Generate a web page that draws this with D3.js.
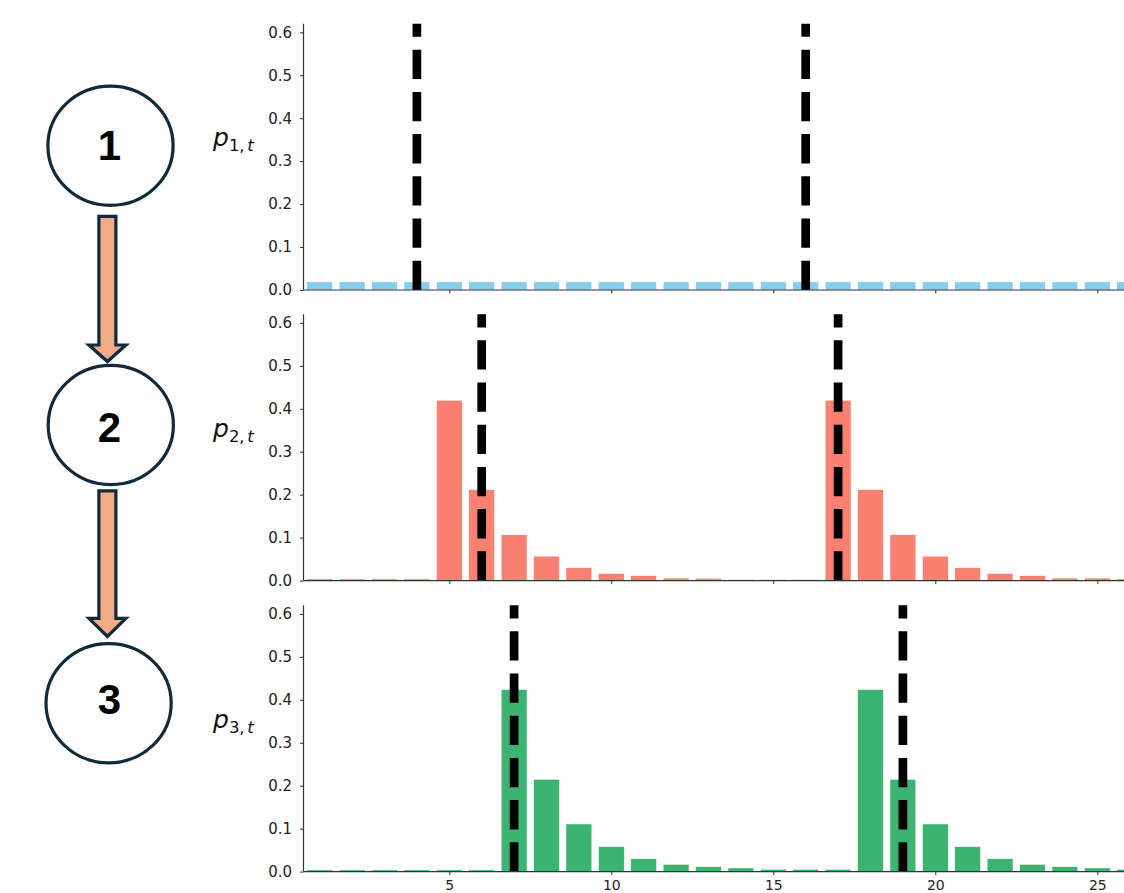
<!DOCTYPE html>
<html>
<head>
<meta charset="utf-8">
<script src="https://cdn.jsdelivr.net/npm/d3@7"></script>
<style>
  html, body { margin: 0; padding: 0; background: #fff; }
  svg { display: block; }
</style>
</head>
<body>
<svg id="chart" width="1124" height="893"></svg>
<script>
// ---------------- data ----------------
const categories = [1,2,3,4,5,6,7,8,9,10,11,12,13,14,15,16,17,18,19,20,21,22,23,24,25,26];
const p1Values = [0.019,0.019,0.019,0.019,0.019,0.019,0.019,0.019,0.019,0.019,0.019,0.019,0.019,
                  0.019,0.019,0.019,0.019,0.019,0.019,0.019,0.019,0.019,0.019,0.019,0.019,0.019];
const p2Values = [0.004,0.004,0.004,0.004,0.42,0.212,0.107,0.057,0.030,0.017,0.0116,0.006,0.0055,
                  0.003,0.003,0.003,0.42,0.212,0.107,0.057,0.030,0.017,0.0116,0.006,0.006,0.004];
const p3Values = [0.004,0.004,0.004,0.004,0.004,0.004,0.424,0.215,0.111,0.058,0.030,0.017,0.0117,
                  0.0086,0.0055,0.0055,0.0055,0.424,0.215,0.111,0.058,0.030,0.017,0.0117,0.0086,0.0055];
const markers1 = [4, 16];
const markers2 = [6, 17];
const markers3 = [7, 19];
const yTicks = [0.0, 0.1, 0.2, 0.3, 0.4, 0.5, 0.6];
const xTicks = [5, 10, 15, 20, 25];
const stateLabels = ["1", "2", "3"];
const seriesNames = ["1", "2", "3"];

const panels = [
  { values: p1Values, markers: markers1, color: "#87CEEB", name: seriesNames[0] },
  { values: p2Values, markers: markers2, color: "#FA8072", name: seriesNames[1] },
  { values: p3Values, markers: markers3, color: "#3CB371", name: seriesNames[2] }
];

// ---------------- layout ----------------
const svg = d3.select("#chart");
const axisX = 303.5;
const panelBottoms = [290, 580.6, 871.6];
const panelH = 266.3;
const x = d3.scaleLinear().domain([0.5, 26.5]).range([axisX, axisX + 26 * 32.4]);
const axisColor = "#333";
const tickFont = "DejaVu Sans, sans-serif";

svg.append("defs").append("clipPath").attr("id", "plotclip")
  .append("rect").attr("x", axisX).attr("y", 0).attr("width", 1124 - axisX).attr("height", 893);

panels.forEach((p, pi) => {
  const bottom = panelBottoms[pi];
  const top = bottom - panelH;
  const y = d3.scaleLinear().domain([0, 0.62]).range([bottom, top]);
  const g = svg.append("g");
  const plot = g.append("g").attr("clip-path", "url(#plotclip)");

  // bars
  plot.selectAll("rect.bar").data(categories.map((c, i) => ({ c, v: p.values[i] })))
    .enter().append("rect").attr("class", "bar")
    .attr("x", d => x(d.c - 0.4))
    .attr("width", d => x(d.c + 0.4) - x(d.c - 0.4))
    .attr("y", d => y(d.v))
    .attr("height", d => y(0) - y(d.v))
    .attr("fill", p.color)
    .attr("stroke", "#fff").attr("stroke-width", 0.6);

  // dashed vertical markers (drawn bottom to top)
  plot.selectAll("line.marker").data(p.markers).enter().append("line")
    .attr("class", "marker")
    .attr("x1", d => x(d)).attr("x2", d => x(d))
    .attr("y1", y(0)).attr("y2", y(0.62))
    .attr("stroke", "#000").attr("stroke-width", 8.7)
    .attr("stroke-dasharray", "29.3,12.9");

  // y axis
  const yAxis = d3.axisLeft(y).tickValues(yTicks).tickFormat(d3.format(".1f")).tickSize(3.5).tickPadding(8);
  const ya = g.append("g").attr("transform", `translate(${axisX},0)`).call(yAxis);
  ya.select(".domain").attr("stroke", axisColor).attr("stroke-width", 1.2).attr("d", `M0,${bottom}V${top}`);
  ya.selectAll(".tick line").attr("stroke", axisColor).attr("stroke-width", 1);
  ya.selectAll(".tick text").attr("font-family", tickFont).attr("font-size", 15).attr("fill", "#222");

  // x axis
  const xAxis = d3.axisBottom(x).tickValues(xTicks).tickSize(3.5).tickPadding(4.5);
  const xa = g.append("g").attr("transform", `translate(0,${bottom})`).call(xAxis);
  xa.select(".domain").attr("stroke", axisColor).attr("stroke-width", 1.2).attr("d", `M${axisX},0H1124`);
  xa.selectAll(".tick line").attr("stroke", axisColor).attr("stroke-width", 1);
  xa.selectAll(".tick text").attr("font-family", tickFont).attr("font-size", 14).attr("fill", "#222");
  if (pi < 2) xa.selectAll(".tick text").remove();

  // y label p_{i,t}
  const base = (top + bottom) / 2 - 10.5;
  const lab = g.append("text").attr("x", 213).attr("y", base)
    .attr("font-family", "DejaVu Sans, sans-serif").attr("fill", "#111");
  lab.append("tspan").attr("font-size", 25).attr("font-style", "italic").text("p");
  lab.append("tspan").attr("font-size", 16.5).attr("dx", 0).attr("dy", 5).text(p.name + ",");
  lab.append("tspan").attr("font-size", 16.5).attr("font-style", "italic").attr("dx", 2.5).text("t");
});

// ---------------- left state diagram ----------------
const navy = "#0f2a3b";
const circles = [
  { cx: 110.5, cy: 145.8, base: 160 },
  { cx: 110.8, cy: 425, base: 441.7 },
  { cx: 108.6, cy: 703.3, base: 714.3 }
];
const dg = svg.append("g");
dg.selectAll("ellipse").data(circles).enter().append("ellipse")
  .attr("cx", d => d.cx).attr("cy", d => d.cy).attr("rx", 62.6).attr("ry", 59.6)
  .attr("fill", "#fff").attr("stroke", navy).attr("stroke-width", 3.2);
dg.selectAll("text.state").data(circles).enter().append("text").attr("class", "state")
  .attr("x", 109.5).attr("y", d => d.base).attr("text-anchor", "middle")
  .attr("font-family", "Liberation Sans, Arial, sans-serif").attr("font-weight", "bold")
  .attr("font-size", 42).attr("fill", "#000").text((d, i) => stateLabels[i]);

const arrows = [
  { top: 216.3, headStart: 345, tip: 361.5 },
  { top: 490.9, headStart: 618.3, tip: 636.5 }
];
const ax = 107.4;
dg.selectAll("path.arrow").data(arrows).enter().append("path").attr("class", "arrow")
  .attr("d", d => `M${ax - 8.5},${d.top}H${ax + 8.5}V${d.headStart}H${ax + 18.5}L${ax},${d.tip}L${ax - 18.5},${d.headStart}H${ax - 8.5}Z`)
  .attr("fill", "#F2AB84").attr("stroke", navy).attr("stroke-width", 3.2).attr("stroke-linejoin", "miter");
</script>
</body>
</html>
